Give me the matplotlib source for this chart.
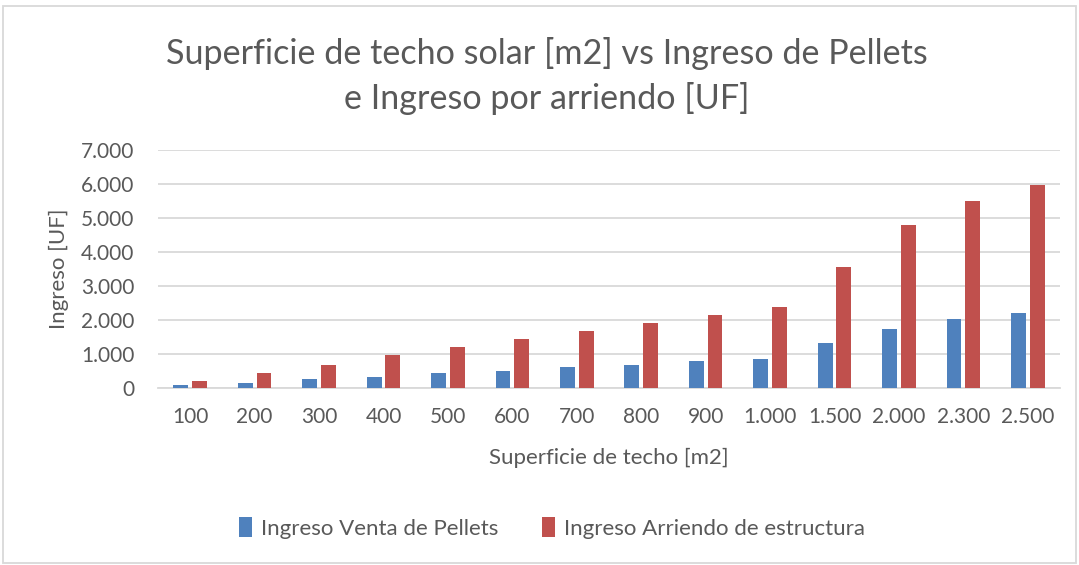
import matplotlib
matplotlib.use("Agg")
import matplotlib.pyplot as plt
from matplotlib.patches import Rectangle
from matplotlib.ticker import FuncFormatter
import numpy as np

categories = ["100", "200", "300", "400", "500", "600", "700", "800", "900",
              "1.000", "1.500", "2.000", "2.300", "2.500"]
pellets = [80, 140, 255, 315, 430, 490, 610, 665, 785, 845, 1315, 1725, 2020, 2195]
arriendo = [200, 430, 665, 960, 1195, 1430, 1665, 1900, 2135, 2370, 3550, 4785, 5490, 5960]
series_names = ["Ingreso Venta de Pellets", "Ingreso Arriendo de estructura"]
title = "Superficie de techo solar [m2] vs Ingreso de Pellets\ne Ingreso por arriendo [UF]"
xlabel = "Superficie de techo [m2]"
ylabel = "Ingreso [UF]"

plt.rcParams['font.family'] = ['Lato', 'DejaVu Sans']
txt = "#595959"

fig = plt.figure(figsize=(10.79, 5.65), dpi=100)
ax = fig.add_axes([158/1079, 1-388/565, (1060-158)/1079, (388-150)/565])

x = np.arange(len(categories))
w = 0.23
off = 0.145
ax.bar(x - off, pellets, w, color="#4F81BD", label=series_names[0], zorder=3)
ax.bar(x + off, arriendo, w, color="#C0504D", label=series_names[1], zorder=3)

ax.set_xlim(-0.5, len(categories) - 0.5)
ax.set_ylim(0, 7000)
ax.set_yticks(np.arange(0, 7001, 1000))
ax.yaxis.set_major_formatter(FuncFormatter(lambda v, p: f"{int(v):,}".replace(",", ".")))
ax.set_xticks(x)
ax.set_xticklabels(categories)
ax.grid(axis="y", color="#D9D9D9", linewidth=1.3, zorder=0)
for s in ["top", "right", "left"]:
    ax.spines[s].set_visible(False)
ax.spines["bottom"].set_color("#D9D9D9")
ax.spines["bottom"].set_linewidth(1.3)
ax.tick_params(axis="both", length=0, labelsize=15, colors=txt)
ax.tick_params(axis="x", pad=14)
ax.tick_params(axis="y", pad=17)

ax.set_xlabel(xlabel, fontsize=16, color=txt, labelpad=15)
ax.set_ylabel(ylabel, fontsize=16, color=txt, labelpad=9)

fig.text(547/1079, 1 - 76/565, title, ha="center", va="center", fontsize=24.6, color=txt, linespacing=1.44)

leg = fig.legend(loc="center", bbox_to_anchor=(552/1079, 1 - 528/565), ncol=2,
                 frameon=False, fontsize=16, handlelength=0.55, handleheight=1.0,
                 columnspacing=2.0, handletextpad=0.4, labelcolor=txt)

fig.patches.append(Rectangle((0.003, 0.003), 0.994, 0.987, transform=fig.transFigure,
                             fill=False, edgecolor="#D9D9D9", linewidth=1.3))

fig.savefig("out.png", dpi=100, facecolor="white")
